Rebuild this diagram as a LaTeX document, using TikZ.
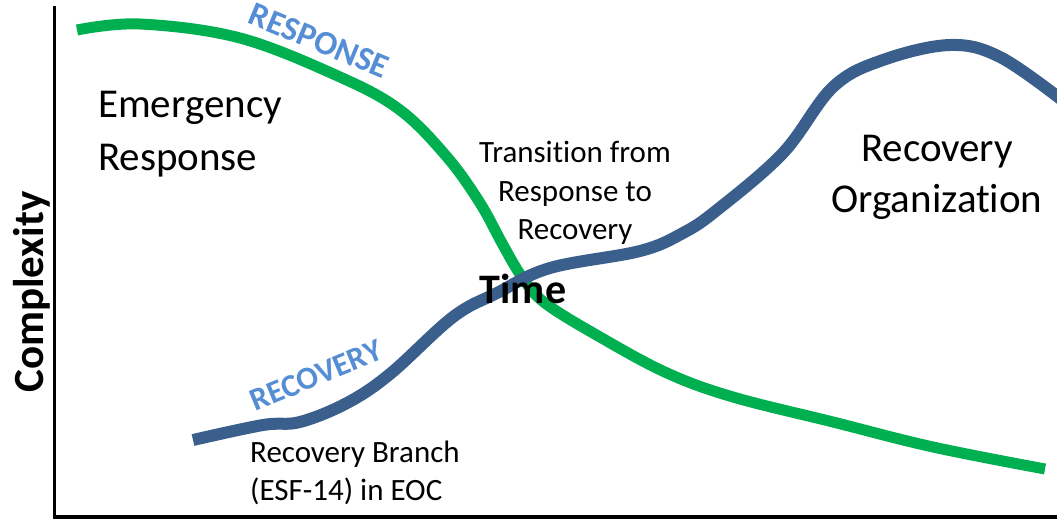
\documentclass[tikz,border=0pt]{standalone}
\usepackage{fontspec}
\setmainfont{Carlito}[Ligatures=NoCommon]
\definecolor{respgreen}{HTML}{00B050}
\definecolor{recoblue}{HTML}{3B5F8C}
\definecolor{tagblue}{HTML}{558ED5}
\begin{document}
\begin{tikzpicture}[x=1pt,y=-1pt,
  axis/.style={line width=3.5pt, black},
  resp/.style={line width=11pt, color=respgreen},
  reco/.style={line width=12pt, color=recoblue},
  big/.style={font=\fontsize{41}{53}\selectfont, inner sep=0pt},
  small/.style={font=\fontsize{31}{38.5}\selectfont, inner sep=0pt},
  tag/.style={font=\bfseries\fontsize{34}{34}\selectfont, text=tagblue, inner sep=0pt},
  heading/.style={font=\bfseries\fontsize{42}{42}\selectfont, inner sep=0pt},
]
\useasboundingbox (0,0) rectangle (1057,521);
% axes
\coordinate (ytop) at (54.5,6);
\coordinate (origin) at (54.5,517);
\coordinate (xend) at (1057,517);
\draw[axis] (ytop) -- (origin) -- (xend);
% response curve
\draw[resp] plot[smooth, tension=0.6] coordinates {(77,30) (140,24) (240,38) (340,77) (400,110) (447,157) (480,203) (503,245) (522,277) (545,303) (600,337) (667,373) (733,397) (833,422) (933,447) (1045,469)};
% recovery curve
\draw[reco] plot[smooth, tension=0.6] coordinates {(193,440) (263,425) (300,422) (347,403) (390,374) (453,317) (497,293) (550,268) (640,251) (683,233) (717,210) (783,153) (833,87) (883,60) (950,45) (1000,57) (1062,100)};
% labels
\node[big, align=left, anchor=base west] (er) at (98,171) {Emergency\\Response};
\node[small, align=center, anchor=base] (tr) at (575,240) {Transition from\\Response to\\Recovery};
\node[big, font=\fontsize{41}{51}\selectfont, align=center, anchor=base] (ro) at (937,213) {Recovery\\Organization};
\node[small, font=\fontsize{31}{38}\selectfont, align=left, anchor=base west] (rb) at (250,500) {Recovery Branch\\(ESF-14) in EOC};
\node[heading, anchor=base] (time) at (523,303) {Time};
\node[heading, font=\bfseries\fontsize{43}{43}\selectfont, rotate=90, anchor=base] (cx) at (43,292) {Complexity};
\node[tag, rotate=-22.5, anchor=base] (rs) at (315,51) {RESPONSE};
\node[tag, font=\bfseries\fontsize{32}{32}\selectfont, rotate=22.5, anchor=base] (rc) at (320,385) {RECOVERY};
\end{tikzpicture}
\end{document}
